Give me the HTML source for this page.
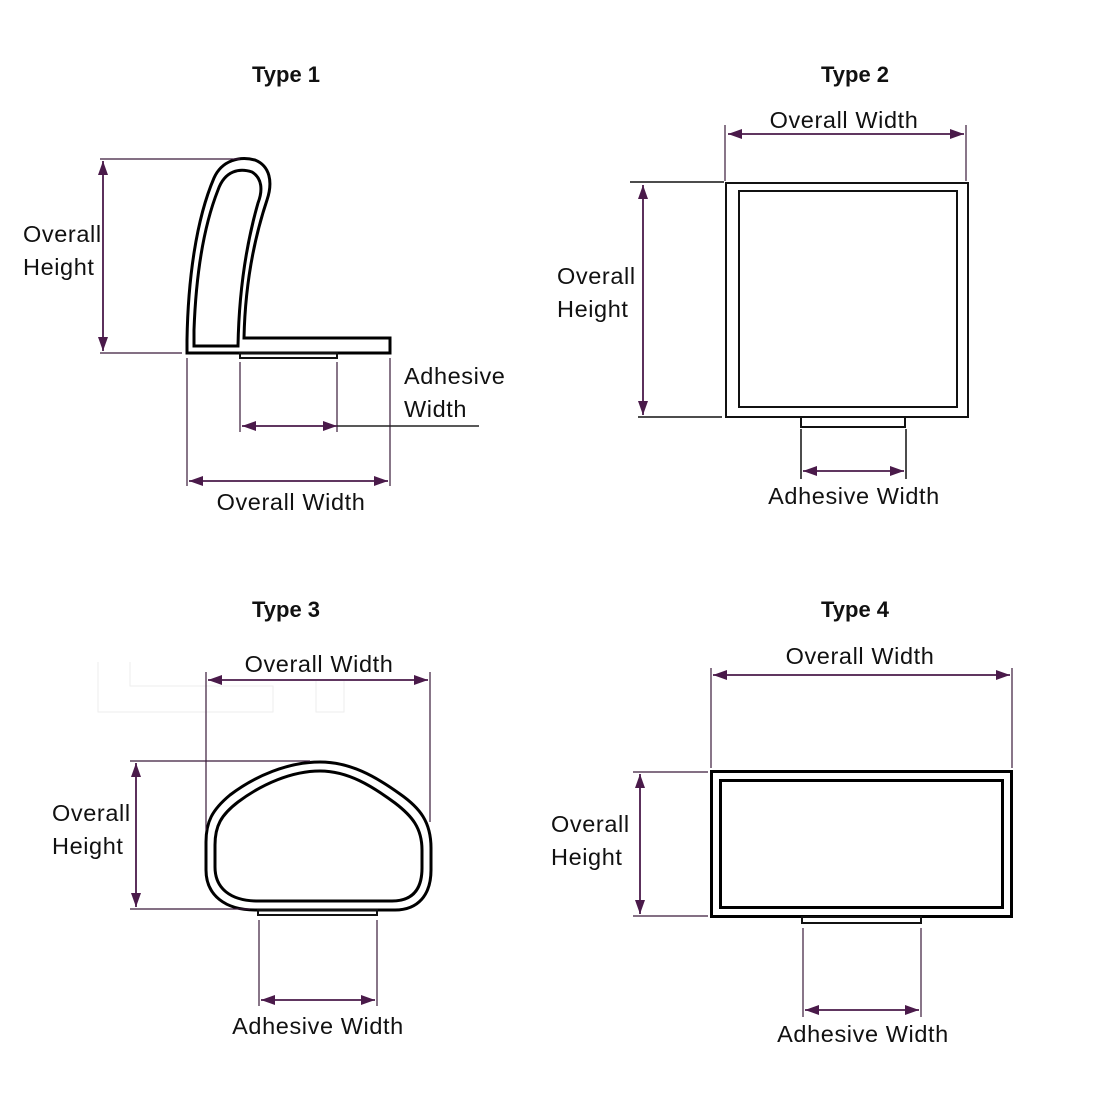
<!DOCTYPE html>
<html><head><meta charset="utf-8"><style>
html,body{margin:0;padding:0;background:#fff;}
svg{display:block;}
text{font-family:"Liberation Sans",sans-serif;fill:#111;}
.t{font-weight:bold;font-size:22px;}
.l{font-size:23.5px;letter-spacing:0.6px;}
.s{fill:none;stroke:#000;stroke-width:3;}
.s2{fill:none;stroke:#111;stroke-width:2;}
.d{stroke:#4a1a4a;stroke-width:1.8;fill:none;}
.e{stroke:#3a1a3a;stroke-width:1.2;fill:none;}
</style></head><body>
<svg width="1100" height="1100" viewBox="0 0 1100 1100" xmlns="http://www.w3.org/2000/svg">
<defs>
<marker id="a" viewBox="0 0 14 10" refX="14" refY="5" markerWidth="14" markerHeight="10" orient="auto-start-reverse" markerUnits="userSpaceOnUse">
<path d="M0,0 L14,5 L0,10 z" fill="#4a1a4a"/></marker>
</defs>
<rect width="1100" height="1100" fill="#fff"/>
<g stroke="#eee" fill="none" stroke-width="1"><path d="M98,662 V712 H273 V686 H130 V662"/><path d="M316,680 V712 H344 V680"/></g>

<!-- TYPE 1 -->
<text class="t" x="286" y="82" text-anchor="middle">Type 1</text>
<path class="s" d="M187,353 L187,340 C188,280 196,220 214,178 C222,160 240,156 255,160 C270,166 273,182 267,200 C252,245 245,290 244,338 L390,338 L390,353 Z"/>
<path class="s" d="M194,346 L194,330 C196,275 203,228 218,190 C225,170 240,168 252,172 C262,178 263,190 258,203 C246,245 239,290 238,346 Z"/>
<rect class="s2" x="240" y="353" width="97" height="5"/>
<line class="e" x1="100" y1="159" x2="240" y2="159"/>
<line class="e" x1="100" y1="353" x2="182" y2="353"/>
<line class="d" x1="103" y1="161" x2="103" y2="351" marker-start="url(#a)" marker-end="url(#a)"/>
<text class="l" x="23" y="242">Overall</text>
<text class="l" x="23" y="275">Height</text>
<line class="e" x1="187" y1="358" x2="187" y2="486"/>
<line class="e" x1="390" y1="358" x2="390" y2="486"/>
<line class="d" x1="189" y1="481" x2="388" y2="481" marker-start="url(#a)" marker-end="url(#a)"/>
<text class="l" x="291" y="510" text-anchor="middle">Overall Width</text>
<line class="e" x1="240" y1="362" x2="240" y2="432"/>
<line class="e" x1="337" y1="362" x2="337" y2="432"/>
<line class="d" x1="242" y1="426" x2="337" y2="426" marker-start="url(#a)" marker-end="url(#a)"/>
<line x1="337" y1="426" x2="479" y2="426" stroke="#222" stroke-width="1.6"/>
<text class="l" x="404" y="384">Adhesive</text>
<text class="l" x="404" y="417">Width</text>

<!-- TYPE 2 -->
<text class="t" x="855" y="82" text-anchor="middle">Type 2</text>
<rect class="s2" x="726" y="183" width="242" height="234"/>
<rect class="s2" x="739" y="191" width="218" height="216"/>
<rect class="s2" x="801" y="417" width="104" height="10"/>
<line class="e" x1="725" y1="125" x2="725" y2="181"/>
<line class="e" x1="966" y1="125" x2="966" y2="181"/>
<line class="d" x1="728" y1="134" x2="964" y2="134" marker-start="url(#a)" marker-end="url(#a)"/>
<text class="l" x="844" y="128" text-anchor="middle">Overall Width</text>
<line x1="630" y1="182" x2="724" y2="182" stroke="#111" stroke-width="1.5"/>
<line x1="638" y1="417" x2="722" y2="417" stroke="#111" stroke-width="1.5"/>
<line class="d" x1="643" y1="185" x2="643" y2="415" marker-start="url(#a)" marker-end="url(#a)"/>
<text class="l" x="557" y="284">Overall</text>
<text class="l" x="557" y="317">Height</text>
<line x1="801" y1="429" x2="801" y2="479" stroke="#111" stroke-width="1.5"/>
<line x1="906" y1="429" x2="906" y2="479" stroke="#111" stroke-width="1.5"/>
<line class="d" x1="803" y1="471" x2="904" y2="471" marker-start="url(#a)" marker-end="url(#a)"/>
<text class="l" x="854" y="504" text-anchor="middle">Adhesive Width</text>

<!-- TYPE 3 -->
<text class="t" x="286" y="617" text-anchor="middle">Type 3</text>
<path class="s" d="M255,910 L395,910 C418,910 431,895 431,870 L431,848 C431,822 420,808 400,794 C375,776 350,762 320,762 C288,762 255,776 230,795 C212,810 206,822 206,842 L206,870 C206,895 225,910 255,910 Z"/>
<path class="s" d="M258,901 L392,901 C412,901 422,890 422,868 L422,850 C422,828 412,816 395,803 C372,786 348,771 320,771 C292,771 262,784 238,802 C221,815 215,826 215,845 L215,867 C215,888 230,901 258,901 Z"/>
<rect class="s2" x="258" y="910" width="119" height="5"/>
<line class="e" x1="206" y1="672" x2="206" y2="830"/>
<line class="e" x1="430" y1="672" x2="430" y2="822"/>
<line class="d" x1="208" y1="680" x2="428" y2="680" marker-start="url(#a)" marker-end="url(#a)"/>
<text class="l" x="319" y="672" text-anchor="middle">Overall Width</text>
<line class="e" x1="130" y1="761" x2="310" y2="761"/>
<line class="e" x1="130" y1="909" x2="250" y2="909"/>
<line class="d" x1="136" y1="763" x2="136" y2="907" marker-start="url(#a)" marker-end="url(#a)"/>
<text class="l" x="52" y="821">Overall</text>
<text class="l" x="52" y="854">Height</text>
<line class="e" x1="259" y1="920" x2="259" y2="1006"/>
<line class="e" x1="377" y1="920" x2="377" y2="1006"/>
<line class="d" x1="261" y1="1000" x2="375" y2="1000" marker-start="url(#a)" marker-end="url(#a)"/>
<text class="l" x="318" y="1034" text-anchor="middle">Adhesive Width</text>

<!-- TYPE 4 -->
<text class="t" x="855" y="617" text-anchor="middle">Type 4</text>
<rect class="s" x="711.5" y="771.5" width="300" height="145"/>
<rect class="s" x="720.5" y="780.5" width="282" height="127"/>
<rect class="s2" x="802" y="917" width="119" height="6"/>
<line class="e" x1="711" y1="668" x2="711" y2="768"/>
<line class="e" x1="1012" y1="668" x2="1012" y2="768"/>
<line class="d" x1="713" y1="675" x2="1010" y2="675" marker-start="url(#a)" marker-end="url(#a)"/>
<text class="l" x="860" y="664" text-anchor="middle">Overall Width</text>
<line class="e" x1="633" y1="772" x2="708" y2="772"/>
<line class="e" x1="633" y1="916" x2="708" y2="916"/>
<line class="d" x1="640" y1="774" x2="640" y2="914" marker-start="url(#a)" marker-end="url(#a)"/>
<text class="l" x="551" y="832">Overall</text>
<text class="l" x="551" y="865">Height</text>
<line class="e" x1="803" y1="928" x2="803" y2="1017"/>
<line class="e" x1="921" y1="928" x2="921" y2="1017"/>
<line class="d" x1="805" y1="1010" x2="919" y2="1010" marker-start="url(#a)" marker-end="url(#a)"/>
<text class="l" x="863" y="1042" text-anchor="middle">Adhesive Width</text>
</svg>
</body></html>
